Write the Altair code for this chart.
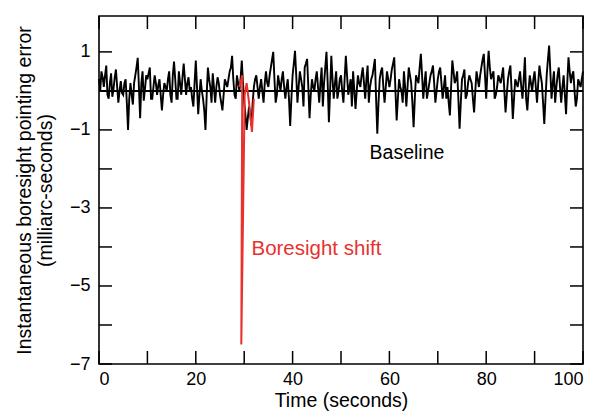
import altair as alt
import pandas as pd

# ---- data ----
# samples at 0, 0.5, 1.0, ... 100 s
noise_values_a = [
    0.3, 0.5, 0.1, 0.65, -0.2, 0.45, 0.05, 0.55, -0.3, 0.25,
    -0.1, 0.3, -1.0, 0.2, -0.35, 0.4, 0.85, -0.7, 0.5, 0.05,
    0.3, 0.6, -0.2, 0.4, -0.1, 0.3, -0.5, 0.2, 0.0, 0.5,
    -0.3, 0.75, -0.2, 0.5, -0.1, 0.7, -0.1, 0.35, 0.1, -0.4,
    0.78, -0.6, 0.3, -0.2, -1.0, 0.6, 0.1, 0.45, -0.3, 0.35,
    -0.1, -0.5, 0.3, 0.1, 0.5, 0.9, -0.1, 0.4, 0.0, 0.78,
    -0.3, -1.0, -0.4, -0.9, 0.1, 0.4, -0.2, 0.3, -0.3, 0.5,
    0.1, 0.6, 1.0, -0.3, 0.4, 0.0, 0.5, -0.2, 0.3, -0.9,
    0.4, 1.03, -0.3, 0.5, 0.1, 0.6, 0.82, -0.7, 0.3, 0.0,
    0.5, -0.3, 0.6, 0.2, 1.0, -0.8, 0.9, -0.2, 0.5, 0.0,
    0.4, -0.3, 0.9, -0.1, 0.3, 0.5, -0.46, 0.4, 0.1, 0.6,
    -0.2, 0.65, 0.1, 0.4, 0.82, -1.1, 0.3, 0.6, -0.3, 0.5,
    0.1, 0.55, 0.86, -0.76, 0.3, 0.0, 0.5, -0.4, 0.6, 0.2,
    -0.93, 0.4, 0.2, 0.95, -0.2, 0.5, 0.0, 0.4, 0.65, -0.3,
    0.3, 0.6, -0.2, 0.4, 0.1, -0.63, 0.78, 0.2, 0.5, -0.97,
    0.3, 0.55, -0.1, 0.4, 0.2, -0.55, 0.5, 0.1, 0.6, 0.95,
    -0.2, 1.03, 0.3, 0.5, -0.1, 0.4, 0.2, 0.6, -0.55, 0.3,
    0.65, -0.72, 0.3, 0.1, 0.5, -0.2, 0.86, -0.5, 0.4, 0.0,
    0.5, -0.3, 0.65, 0.2, -0.85, 0.4, 1.16, -0.2, 0.5, 0.1,
    0.6, -0.3, 0.4, -0.6, 0.86, 0.2, 0.5, -0.4, 0.3, 0.1,
    0.5,
]
# samples at 0.25, 0.75, ... 99.75 s
noise_values_b = [
    0.0, 0.35, 0.4, -0.1, 0.2, -0.15, 0.35, 0.1, 0.0, -0.05,
    0.2, -0.3, -0.2, -0.1, 0.2, 0.6, 0.1, 0.2, -0.25, 0.4,
    0.45, -0.2, 0.1, 0.2, 0.15, -0.1, -0.1, 0.1, 0.3, -0.1,
    0.4, 0.3, -0.2, 0.2, 0.35, 0.3, 0.2, 0.0, -0.2, 0.2,
    0.1, -0.1, 0.0, -0.5, -0.1, 0.3, -0.3, 0.1, 0.1, 0.2,
    -0.3, -0.1, 0.2, 0.3, 0.6, 0.3, -0.2, 0.2, 0.3, 0.2,
    -0.6, -0.7, -0.6, -0.3, 0.3, 0.1, 0.1, 0.0, 0.2, 0.2,
    0.4, 0.8, 0.3, -0.1, 0.2, 0.3, 0.1, 0.1, -0.2, -0.2,
    0.7, 0.4, 0.1, 0.3, -0.4, 0.7, 0.1, -0.1, 0.1, 0.3,
    0.1, 0.2, -0.4, 0.6, 0.2, 0.0, 0.3, 0.2, -0.2, 0.3,
    0.0, 0.3, 0.4, 0.1, -0.4, 0.0, 0.0, 0.2, 0.4, 0.2,
    0.3, -0.3, 0.3, 0.6, -0.2, -0.3, 0.5, 0.1, 0.1, 0.3,
    0.3, 0.7, 0.0, -0.2, 0.1, -0.3, 0.1, 0.1, 0.4, -0.3,
    -0.2, 0.3, 0.6, 0.4, 0.2, -0.2, 0.2, 0.5, 0.2, 0.0,
    0.5, 0.2, 0.1, -0.2, -0.3, 0.1, 0.5, 0.3, -0.2, -0.3,
    0.4, -0.2, 0.2, 0.3, -0.2, 0.0, 0.3, 0.4, 0.8, 0.4,
    0.5, 0.6, 0.4, -0.2, 0.1, 0.3, 0.4, 0.0, -0.1, 0.5,
    0.0, -0.2, 0.2, 0.3, 0.1, 0.3, -0.2, 0.0, 0.2, 0.3,
    0.1, 0.2, 0.4, -0.3, -0.2, 0.8, 0.5, 0.2, -0.3, 0.4,
    0.1, 0.1, -0.1, 0.2, 0.5, 0.4, 0.0, -0.2, 0.2, 0.3,
]
noise_times_a = [i * 0.5 for i in range(len(noise_values_a))]
noise_times_b = [0.25 + i * 0.5 for i in range(len(noise_values_b))]

shift_times = [29.0, 29.6, 29.4, 30.1, 30.5, 31.0, 31.6, 32.0]
shift_values = [0.1, 0.4, -6.5, -0.1, 0.2, -0.3, -1.05, -0.2]

x_tick_values = [0, 10, 20, 30, 40, 50, 60, 70, 80, 90, 100]
x_label_values = [0, 20, 40, 60, 80, 100]
y_tick_values = [-7, -6, -5, -4, -3, -2, -1, 0, 1]
y_label_values = [1, -1, -3, -5, -7]

annotations = ["Baseline", "Boresight shift"]
annotation_t = [55.9, 31.5]
annotation_v = [-1.6, -4.05]

# ---- chart ----
W, H = 484, 348
FONT = "Liberation Sans"
RED = "#e8322e"
TICK = 13

xs = alt.Scale(domain=[0, 100], nice=False, zero=False)
ys = alt.Scale(domain=[-7, 1.92], nice=False, zero=False)

x_axis = alt.Axis(values=x_label_values, title="Time (seconds)",
                  tickSize=0, domain=False, grid=False,
                  labelFont=FONT, labelFontSize=18, labelColor="black",
                  labelPadding=6, titleFont=FONT, titleFontSize=19.5,
                  titleFontWeight="normal", titleColor="black",
                  titlePadding=3)
y_axis = alt.Axis(values=y_label_values,
                  title=["Instantaneous boresight pointing error",
                         "(milliarc-seconds)"],
                  tickSize=0, domain=False, grid=False,
                  labelFont=FONT, labelFontSize=18, labelColor="black",
                  labelPadding=9, titleFont=FONT, titleFontSize=19.5,
                  titleFontWeight="normal", titleColor="black",
                  titlePadding=14, titleLineHeight=21)

noise_df = pd.DataFrame({"t": noise_times_a + noise_times_b,
                         "v": noise_values_a + noise_values_b}).sort_values("t")
shift_df = pd.DataFrame({"t": shift_times, "v": shift_values,
                         "o": list(range(len(shift_times)))})
xt_df = pd.DataFrame({"t": x_tick_values})
yt_df = pd.DataFrame({"v": y_tick_values})
ann_df = pd.DataFrame({"label": annotations, "t": annotation_t,
                       "v": annotation_v, "fs": [19.5, 20.5]})


def X():
    return alt.X("t:Q", scale=xs, axis=x_axis)


def Y():
    return alt.Y("v:Q", scale=ys, axis=y_axis)


noise = alt.Chart(noise_df).mark_line(color="black", strokeWidth=1.9).encode(
    x=X(), y=Y(),
)

zero_line = alt.Chart(noise_df).mark_rule(color="black", strokeWidth=1.2).encode(
    y=alt.datum(0, scale=ys, axis=y_axis),
)

shift = alt.Chart(shift_df).mark_line(color=RED, strokeWidth=2).encode(
    x=X(), y=Y(), order="o:Q",
)

xt_bottom = alt.Chart(xt_df).mark_rule(color="black", strokeWidth=1.5).encode(
    x=X(), y=alt.value(H), y2=alt.value(H - TICK),
)
xt_top = alt.Chart(xt_df).mark_rule(color="black", strokeWidth=1.5).encode(
    x=X(), y=alt.value(0), y2=alt.value(TICK),
)
yt_left = alt.Chart(yt_df).mark_rule(color="black", strokeWidth=1.5).encode(
    y=Y(), x=alt.value(0), x2=alt.value(TICK),
)
yt_right = alt.Chart(yt_df).mark_rule(color="black", strokeWidth=1.5).encode(
    y=Y(), x=alt.value(W), x2=alt.value(W - TICK),
)

text = alt.Chart(ann_df).mark_text(align="left", baseline="middle",
                                   font=FONT).encode(
    x=X(), y=Y(),
    text="label:N",
    size=alt.Size("fs:Q", scale=None, legend=None),
    color=alt.Color("label:N", scale=alt.Scale(domain=annotations,
                                               range=["black", RED]),
                    legend=None),
)

chart = alt.layer(noise, zero_line, shift, xt_bottom, xt_top, yt_left,
                  yt_right, text).properties(
    width=W, height=H,
    autosize=alt.AutoSizeParams(type="none"),
    padding={"left": 91, "top": 8, "right": 16, "bottom": 50},
    background="white",
).configure_view(stroke="black", strokeWidth=1.6)

chart.save("out.html", embed_options={"renderer": "svg", "actions": False})
